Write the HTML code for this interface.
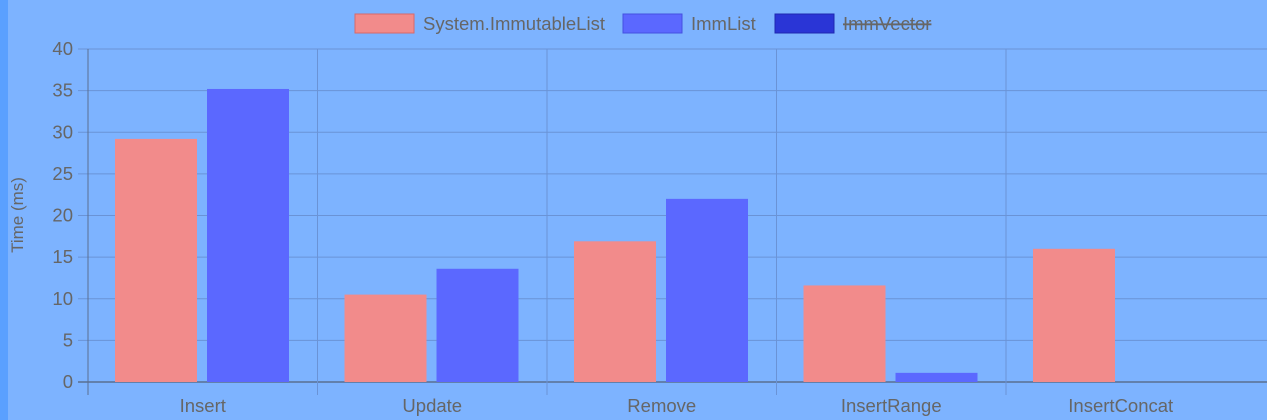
<!DOCTYPE html>
<html><head><meta charset="utf-8"><style>
body{margin:0;background:#7db3ff;font-family:"Liberation Sans",sans-serif;}
svg{display:block}
</style></head><body>
<svg id="c" width="1267" height="420">
<rect x="0" y="0" width="1267" height="420" fill="#7db3ff"/>
<rect x="0" y="0" width="8" height="420" fill="#5aa0ff"/>
<g>
<g><rect x="355" y="14" width="59" height="19" fill="#f28b8b" stroke="#d86a6a"/><text x="423" y="30" font-size="18.5" fill="#666">System.ImmutableList</text></g>
<g><rect x="623" y="14" width="59" height="19" fill="#5b68ff" stroke="#4450e0"/><text x="691" y="30" font-size="18.5" fill="#666">ImmList</text></g>
<g><rect x="775" y="14" width="59" height="19" fill="#2a35d6" stroke="#2028b0"/><text x="843" y="30" font-size="18.5" fill="#666" text-decoration="line-through">ImmVector</text></g>
</g>
<text transform="translate(23,215) rotate(-90)" text-anchor="middle" font-size="17" fill="#666">Time (ms)</text>
<g id="grid"></g><g id="bars"></g><g id="labels"></g>
</svg>
<script>
const categories=["Insert","Update","Remove","InsertRange","InsertConcat"];
const seriesA=[29.2,10.5,16.9,11.6,16.0];
const seriesB=[35.2,13.6,22.0,1.1,0];
const yTicks=[0,5,10,15,20,25,30,35,40];
const NS="http://www.w3.org/2000/svg";
const x0=88,bw=229.5,yTop=49,yBot=382,yMax=40,right=1267;
const y=v=>yBot-(v/yMax)*(yBot-yTop);
const xc=i=>x0+i*bw;
function mk(t,a,p){const e=document.createElementNS(NS,t);for(const k in a)e.setAttribute(k,a[k]);p.appendChild(e);return e;}
const g=document.getElementById('grid'),b=document.getElementById('bars'),l=document.getElementById('labels');
yTicks.forEach(t=>{
 const ln=mk('line',{x1:x0-10,x2:right,y1:y(t),y2:y(t),stroke:t===0?'#5a6f91':'#6a93d6','stroke-width':t===0?1.5:1},g);
 
 
 const tx=mk('text',{x:x0-15,y:y(t)+6,'text-anchor':'end','font-size':18.5,fill:'#666'},l);
 tx.textContent=t;
 
 
});
for(let i=0;i<categories.length;i++){
 const ln=mk('line',{x1:xc(i),x2:xc(i),y1:yTop,y2:yBot+13,stroke:i===0?'#5a6f91':'#6a93d6','stroke-width':1},g);
 
 
}
categories.forEach((c,i)=>{
 const a=mk('rect',{x:xc(i)+27,y:y(seriesA[i]),width:82,height:yBot-y(seriesA[i]),fill:'#f28b8b'},b);
 
 
 if(seriesB[i]>0){
 const bb=mk('rect',{x:xc(i)+119,y:y(seriesB[i]),width:82,height:yBot-y(seriesB[i]),fill:'#5b68ff'},b);
 
 
 }
 const t=mk('text',{x:xc(i)+bw/2,y:412,'text-anchor':'middle','font-size':18.5,fill:'#666'},l);
 t.textContent=c;
 
 
});
</script>
</body></html>
